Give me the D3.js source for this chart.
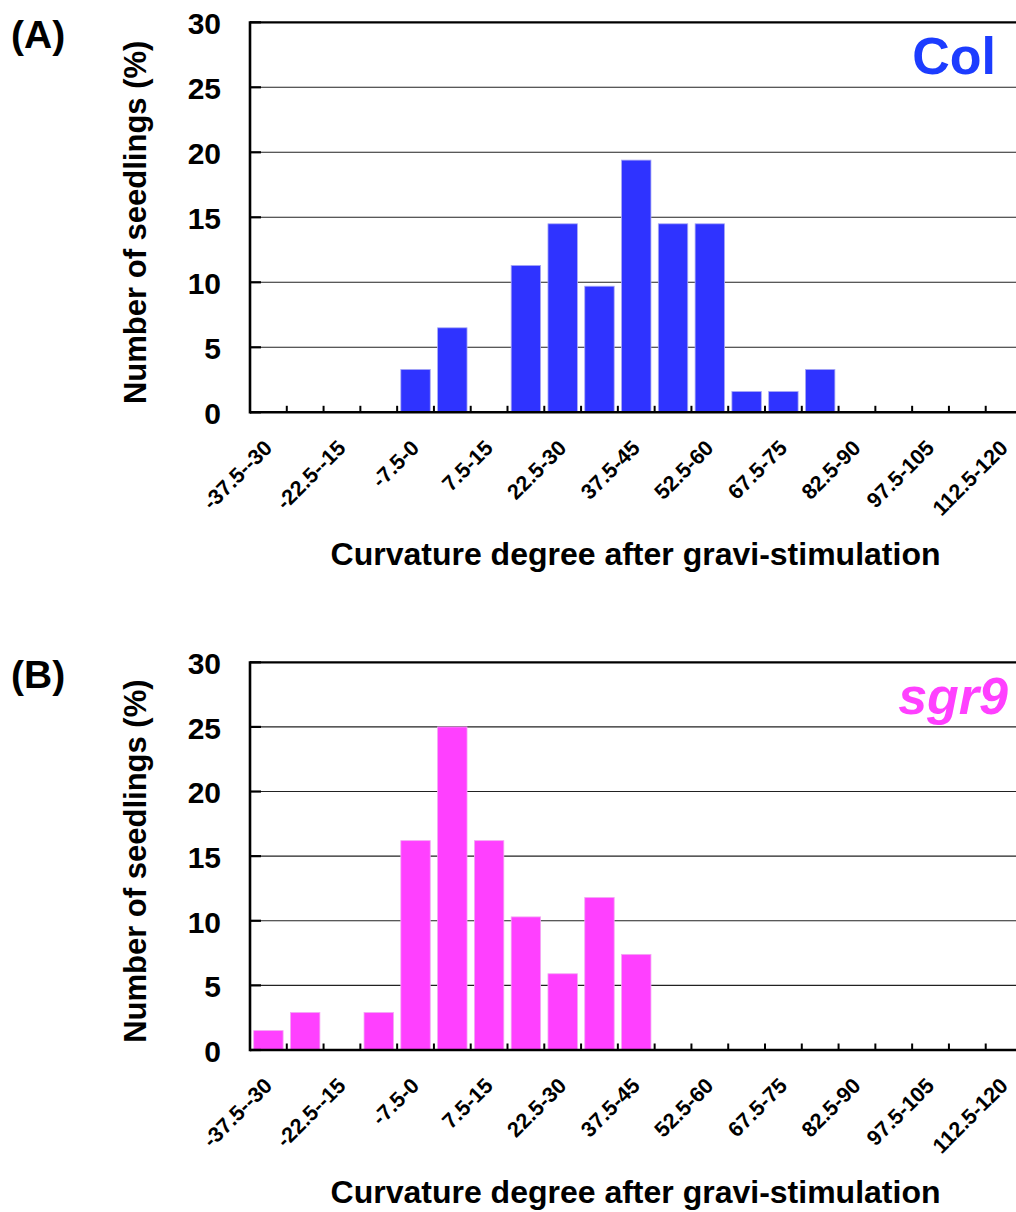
<!DOCTYPE html>
<html>
<head>
<meta charset="utf-8">
<script src="https://cdn.jsdelivr.net/npm/d3@7"></script>
<style>
  body { margin: 0; background: #fff; }
  svg { display: block; font-family: "Liberation Sans", Arial, sans-serif; font-weight: bold; }
</style>
</head>
<body>
<div id="chart"></div>
<script>
// 7.5 degree bins of curvature
const CATEGORIES = [
    "-37.5--30", "-30--22.5", "-22.5--15", "-15--7.5", "-7.5-0", "0-7.5",
    "7.5-15", "15-22.5", "22.5-30", "30-37.5", "37.5-45", "45-52.5",
    "52.5-60", "60-67.5", "67.5-75", "75-82.5", "82.5-90", "90-97.5",
    "97.5-105", "105-112.5", "112.5-120"
];
// only every other bin is labelled on the axis
const TICK_LABELS = CATEGORIES.filter((c, i) => i % 2 === 0);

const COL_VALUES = [0, 0, 0, 0, 3.3, 6.5, 0, 11.3, 14.5, 9.7, 19.4, 14.5, 14.5, 1.6, 1.6, 3.3, 0, 0, 0, 0, 0];
const SGR9_VALUES = [1.5, 2.9, 0, 2.9, 16.2, 25.0, 16.2, 10.3, 5.9, 11.8, 7.4, 0, 0, 0, 0, 0, 0, 0, 0, 0, 0];

const Y_TICKS = [0, 5, 10, 15, 20, 25, 30];

const W = 1016, H = 1212;
const left = 250, right = 1022.5;

const svg = d3.select("#chart").append("svg")
    .attr("width", W)
    .attr("height", H);

function drawPanel(opts) {
    const g = svg.append("g");

    const x = d3.scaleBand()
        .domain(CATEGORIES)
        .range([left, right])
        .paddingInner(0.2)
        .paddingOuter(0.1);
    const y = d3.scaleLinear().domain([0, 30]).range([opts.bottom, opts.top]);
    const step = x.step();

    // gridlines
    g.append("g").selectAll("line")
        .data(Y_TICKS.filter(t => t > 0 && t < 30))
        .join("line")
        .attr("x1", left).attr("x2", W)
        .attr("y1", d => y(d)).attr("y2", d => y(d))
        .attr("stroke", "#222").attr("stroke-width", 1.1);

    // bars
    g.append("g").selectAll("rect")
        .data(CATEGORIES.map((c, i) => ({ cat: c, value: opts.values[i] })).filter(d => d.value > 0))
        .join("rect")
        .attr("x", d => x(d.cat))
        .attr("width", x.bandwidth())
        .attr("y", d => y(d.value))
        .attr("height", d => y(0) - y(d.value))
        .attr("fill", opts.color)
        .attr("stroke", opts.edge)
        .attr("stroke-width", 0.8);

    // top frame
    g.append("line")
        .attr("x1", left).attr("x2", W)
        .attr("y1", y(30)).attr("y2", y(30))
        .attr("stroke", "#000").attr("stroke-width", 2.2);

    // inward y ticks
    g.append("g").selectAll("line")
        .data(Y_TICKS)
        .join("line")
        .attr("x1", left).attr("x2", left + 11)
        .attr("y1", d => y(d)).attr("y2", d => y(d))
        .attr("stroke", "#000").attr("stroke-width", 2.2);

    // x ticks at bin boundaries
    const bounds = d3.range(CATEGORIES.length + 1).map(i => left + i * step);
    g.append("g").selectAll("line")
        .data(bounds)
        .join("line")
        .attr("x1", d => d).attr("x2", d => d)
        .attr("y1", y(0)).attr("y2", y(0) - 6.5)
        .attr("stroke", "#000").attr("stroke-width", 2);

    // axis lines
    g.append("line")
        .attr("x1", left).attr("x2", W)
        .attr("y1", y(0)).attr("y2", y(0))
        .attr("stroke", "#000").attr("stroke-width", 2.6);
    g.append("line")
        .attr("x1", left).attr("x2", left)
        .attr("y1", y(30) - 1).attr("y2", y(0) + 1.3)
        .attr("stroke", "#000").attr("stroke-width", 2.6);

    // y tick labels
    const yAxis = g.append("g")
        .attr("transform", `translate(${left},0)`)
        .call(d3.axisLeft(y).tickValues(Y_TICKS).tickSize(0).tickPadding(29));
    yAxis.select(".domain").remove();
    yAxis.selectAll("text")
        .attr("dy", "0.38em")
        .style("font-size", "30px")
        .style("font-family", "'Liberation Sans', Arial, sans-serif")
        .style("font-weight", "bold")
        .attr("fill", "#000");

    // x tick labels, rotated
    const xAxis = g.append("g")
        .attr("transform", `translate(0,${y(0)})`)
        .call(d3.axisBottom(x).tickValues(TICK_LABELS).tickSize(0));
    xAxis.select(".domain").remove();
    xAxis.selectAll("text")
        .attr("x", 0).attr("y", 0).attr("dy", 0)
        .attr("text-anchor", "end")
        .attr("transform", "translate(5,37) rotate(-45)")
        .style("font-size", "21.5px")
        .style("font-family", "'Liberation Sans', Arial, sans-serif")
        .style("font-weight", "bold")
        .attr("fill", "#000");

    // axis titles
    g.append("text")
        .attr("x", 635.5).attr("y", opts.bottom + 153)
        .attr("text-anchor", "middle")
        .style("font-size", "32px")
        .text("Curvature degree after gravi-stimulation");
    g.append("text")
        .attr("transform", `translate(146,${(opts.top + opts.bottom) / 2 + 5}) rotate(-90)`)
        .attr("text-anchor", "middle")
        .style("font-size", "31px")
        .text("Number of seedlings (%)");

    // panel letter
    g.append("text")
        .attr("x", 11).attr("y", opts.top + 26)
        .style("font-size", "39px")
        .text(opts.panel);

    // genotype name
    g.append("text")
        .attr("x", opts.nameX).attr("y", opts.top + 52)
        .attr("text-anchor", "end")
        .attr("fill", opts.nameColor)
        .style("font-size", "52px")
        .style("font-style", opts.italic ? "italic" : "normal")
        .text(opts.name);
}

drawPanel({
    top: 22.3, bottom: 412.3, values: COL_VALUES,
    color: "#2f33ff", edge: "#a9aaf5",
    panel: "(A)", name: "Col", nameColor: "#1c3cff", nameX: 996, italic: false
});

drawPanel({
    top: 662.3, bottom: 1050, values: SGR9_VALUES,
    color: "#ff40ff", edge: "#f3a8f3",
    panel: "(B)", name: "sgr9", nameColor: "#ff40ff", nameX: 1008, italic: true
});
</script>
</body>
</html>
